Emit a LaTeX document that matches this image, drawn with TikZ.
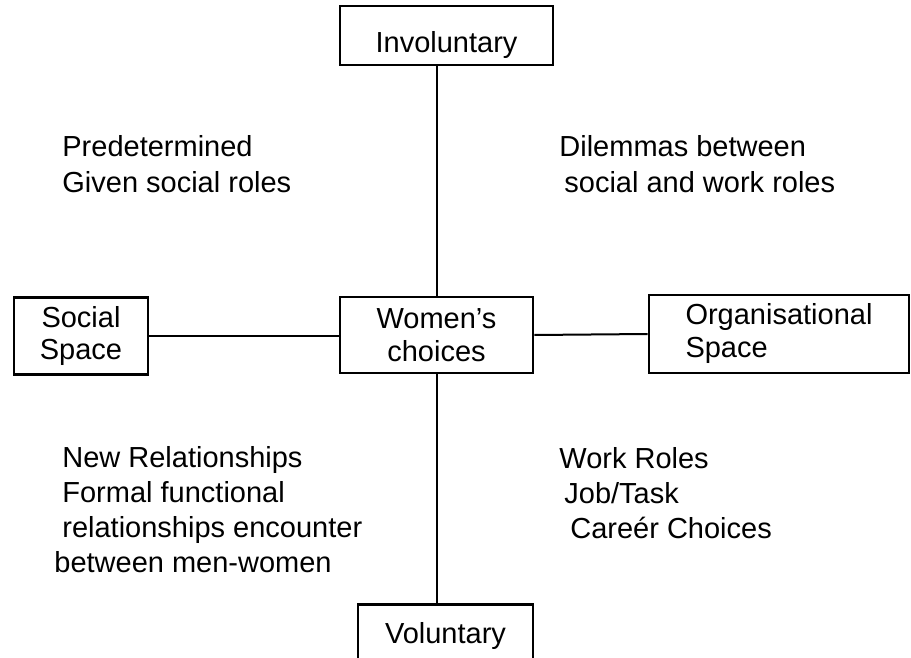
\documentclass[tikz,border=0pt]{standalone}
\usepackage{fontspec}
\setmainfont{Liberation Sans}
\usetikzlibrary{positioning}

\tikzset{
  box/.style={draw, line width=1.3pt, rectangle, inner sep=0pt,
    font=\fontsize{14.5}{16.5}\selectfont, align=center},
  link/.style={line width=1pt},
  blurb/.style={inner sep=0pt, anchor=base west, align=left,
    font=\fontsize{14.5}{17.5}\selectfont}
}

\begin{document}
\begin{tikzpicture}[x=0.5pt, y=-0.5pt]
  % page size of the reference
  \useasboundingbox (0,0) rectangle (911,658);

  % 1) boxes
  \node[box, minimum width=106.5pt, text height=17.5pt, text depth=0pt, inner ysep=6pt] (invol) at (446.5,35.5) {Involuntary};
  \node[box, minimum width=67pt,    minimum height=38.5pt] (social) at (81,336)   {Social\\Space};
  \node[box, minimum width=96.5pt,  minimum height=38pt]   (women)  at (436.5,335)  {Women's\\choices};
  \node[box, minimum width=130pt,   minimum height=39pt, align=left] (org) at (779,334) {Organisational\\ Space};
  \node[box, minimum width=87.5pt, text height=13.5pt, text depth=10pt, inner ysep=6pt, anchor=north] (vol) at (445.5,603) {Voluntary};

  % 2) connectors
  \draw[link] (women.north |- invol.south) -- (women.north);
  \draw[link] (women.south) -- (women.south |- vol.north);
  \draw[link] (social.east) -- (social.east -| women.west);
  \draw[link] (women.east)  -- (org.west);

  % 3) quadrant texts (placed by the baseline of their last line)
  \node[blurb] (pred)  at (62,192)  {Predetermined\\Given social roles};
  \node[blurb] (dilem) at (559,192) {Dilemmas between\\\hspace*{2.5pt}social and work roles};
  \node[blurb] (newrel) at (54,572) {\hspace*{4pt}New Relationships\\\hspace*{4pt}Formal functional\\\hspace*{4pt}relationships encounter\\between men-women};
  \node[blurb] (work)  at (559,538) {Work Roles\\\hspace*{2.5pt}Job/Task\\\hspace*{5.5pt}Careér Choices};
\end{tikzpicture}
\end{document}
